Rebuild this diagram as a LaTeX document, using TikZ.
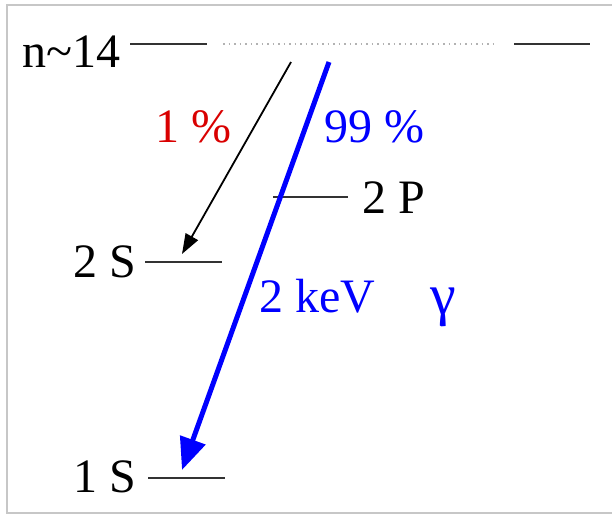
\documentclass[tikz,border=0pt]{standalone}
\usepackage{fontspec}
\setmainfont{Liberation Serif}
\usetikzlibrary{arrows.meta, positioning}

\begin{document}
\begin{tikzpicture}[
    x=0.5pt, y=-0.5pt,
    lbl/.style={font=\fontsize{24}{28}\selectfont, inner sep=0pt},
    level/.style={line width=1.2pt, black!80},
    decay/.style={-{Triangle[length=10pt, width=7pt]}, line width=0.9pt},
    xray/.style={-{Triangle[length=16pt, width=13pt]}, line width=2.5pt, blue}
]
\useasboundingbox (0,0) rectangle (612,515);
\draw[black!22, line width=1pt] (625,5) -- (7,5) -- (7,513) -- (625,513);

% Level labels
\node[lbl, anchor=base west] (L14) at (22,67) {n\textasciitilde 14};
\node[lbl, anchor=base west] (L2P) at (362,213) {2 P};
\node[lbl, anchor=base west] (L2S) at (73,277) {2 S};
\node[lbl, anchor=base west] (L1S) at (73,492) {1 S};

% Level lines
\coordinate (n14a) at (130,44);
\coordinate (n14b) at (207,44);
\coordinate (n14c) at (223,44);
\coordinate (n14d) at (497,44);
\coordinate (n14e) at (514,44);
\coordinate (n14f) at (590,44);
\coordinate (p2a) at (273,197);
\coordinate (p2b) at (348,197);
\coordinate (s2a) at (145,262);
\coordinate (s2b) at (222,262);
\coordinate (s1a) at (148,478);
\coordinate (s1b) at (225,478);
\draw[level] (n14a) -- (n14b);
\draw[black!30, dotted, line width=0.75pt] (n14c) -- (n14d);
\draw[level] (n14e) -- (n14f);
\draw[level] (p2a) -- (p2b);
\draw[level] (s2a) -- (s2b);
\draw[level] (s1a) -- (s1b);

% Transitions
\coordinate (start1) at (291,62);
\coordinate (end1) at (182,254);
\coordinate (start2) at (329,62);
\coordinate (end2) at (182,470);
\draw[decay] (start1) -- (end1);
\draw[xray] (start2) -- (end2);

% Branching labels
\node[lbl, red!85!black, anchor=base west] (P1) at (155,142) {1 \%};
\node[lbl, blue, anchor=base west] (P99) at (324,142) {99 \%};
\node[lbl, blue, anchor=base west] (KeV) at (259,312) {2 keV};
\node[lbl, blue, font=\fontsize{29}{32}\selectfont, anchor=base west] (Gam) at (430,314) {γ};
\end{tikzpicture}
\end{document}
